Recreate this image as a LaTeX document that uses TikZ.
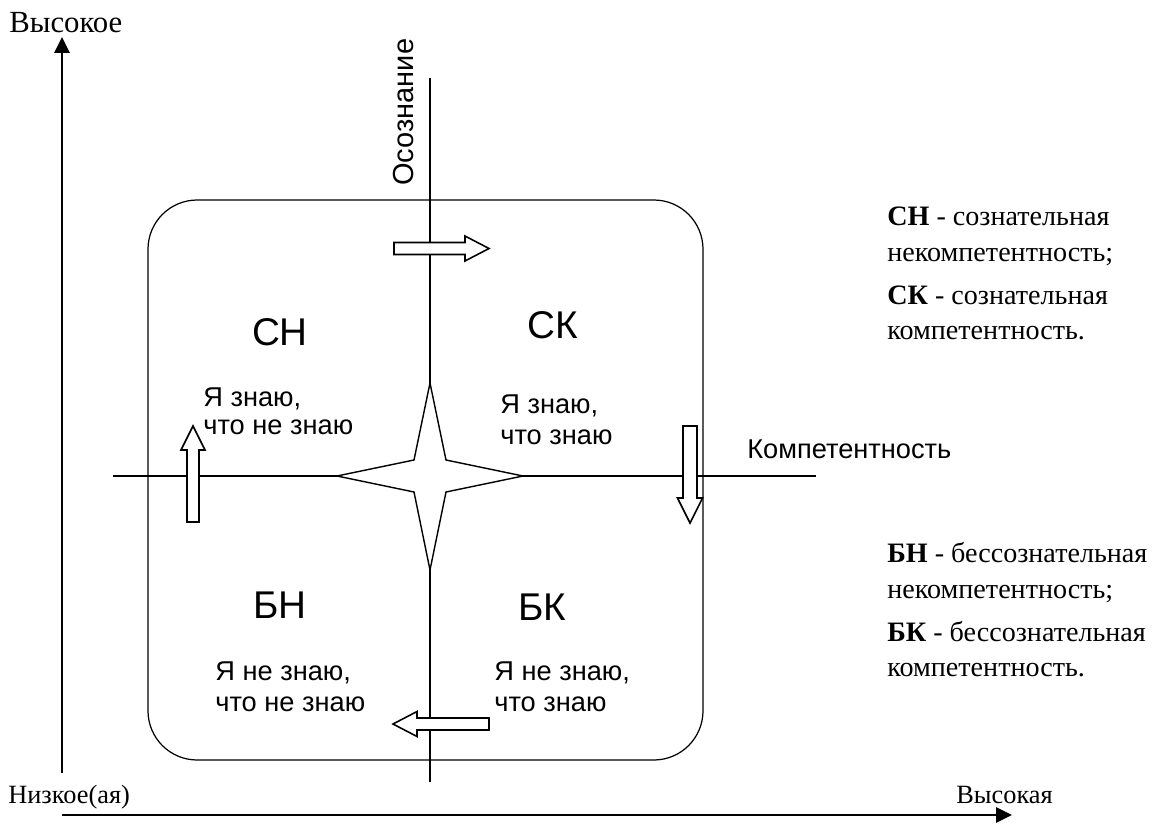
\documentclass[tikz,border=0pt]{standalone}
\usepackage{fontspec}
\setmainfont{Liberation Serif}
\setsansfont{Liberation Sans}
\usetikzlibrary{arrows.meta}

\begin{document}
\begin{tikzpicture}[x=0.02cm,y=-0.02cm,
  axisarrow/.style={line width=1.6pt,-{Triangle[length=9pt,width=8.5pt]}},
  guide/.style={line width=0.6pt},
  frame/.style={line width=0.7pt,rounded corners=28pt},
  starshape/.style={draw,line width=0.8pt,fill=white},
  blockarrow/.style={draw,line width=0.9pt,fill=white},
  lbl/.style={font=\sffamily\fontsize{15.5}{18}\selectfont,anchor=base west,inner sep=0pt},
  quad/.style={font=\sffamily\fontsize{22}{26}\selectfont,anchor=base,inner sep=0pt},
  legend/.style={font=\fontsize{16}{19}\selectfont,anchor=base west,inner sep=0pt},
  corner/.style={font=\fontsize{15}{18}\selectfont,anchor=base west,inner sep=0pt},
]
\useasboundingbox (0,0) rectangle (1160,825);

% outer axes
\coordinate (origin) at (62,815);
\coordinate (ytop) at (62,37);
\coordinate (ybot) at (62,773);
\coordinate (xend) at (1012,815);
\draw[axisarrow] (ybot) -- (ytop);
\draw[axisarrow] (origin) -- (xend);
\node[corner,font=\fontsize{17.5}{20}\selectfont] (high) at (9,32) {Высокое};
\node[corner] (low) at (8,803) {Низкое(ая)};
\node[corner] (highx) at (956,803) {Высокая};

% rounded frame
\draw[frame] (148,200) rectangle (703,760);

% cross of the two scales
\coordinate (vtop) at (430,78);
\coordinate (vbot) at (430,782);
\coordinate (hleft) at (113,476);
\coordinate (hright) at (816,476);
\draw[guide] (vtop) -- (vbot);
\draw[guide] (hleft) -- (hright);
\node[lbl,rotate=90,font=\sffamily\fontsize{16.5}{19}\selectfont] (aware) at (413,186) {Осознание};
\node[lbl] (comp) at (747,458) {Компетентность};

% four-pointed star at the centre
\draw[starshape] (430,383) -- (446,460) -- (523,476) -- (446,492) -- (430,570)
  -- (414,492) -- (337,476) -- (414,460) -- cycle;

% block arrows showing the cycle
\draw[blockarrow] (394,242.5) -- (465,242.5) -- (465,236) -- (489,248.5) -- (465,261)
  -- (465,254.5) -- (394,254.5) -- cycle;
\draw[blockarrow] (683,426) -- (697,426) -- (697,498) -- (702.5,498) -- (690,523)
  -- (677.5,498) -- (683,498) -- cycle;
\draw[blockarrow] (187,522) -- (199,522) -- (199,450) -- (205,450) -- (193,426)
  -- (181,450) -- (187,450) -- cycle;
\draw[blockarrow] (489,718) -- (489,730) -- (417,730) -- (417,736.5) -- (393,724)
  -- (417,711.5) -- (417,718) -- cycle;

% quadrant names
\node[quad] (sn) at (280,345) {СН};
\node[quad] (sk) at (553,338) {СК};
\node[quad] (bn) at (280,618) {БН};
\node[quad] (bk) at (542,620) {БК};

% quadrant phrases
\node[lbl] (sn1) at (203,406) {Я знаю,};
\node[lbl] (sn2) at (203,434) {что не знаю};
\node[lbl] (sk1) at (500,413) {Я знаю,};
\node[lbl] (sk2) at (500,444) {что знаю};
\node[lbl] (bn1) at (215,680) {Я не знаю,};
\node[lbl] (bn2) at (215,711) {что не знаю};
\node[lbl] (bk1) at (494,680) {Я не знаю,};
\node[lbl] (bk2) at (494,711) {что знаю};

% legend
\node[legend] (l1) at (887,225) {\textbf{СН} - сознательная};
\node[legend] (l2) at (887,261) {некомпетентность;};
\node[legend] (l3) at (887,304) {\textbf{СК} - сознательная};
\node[legend] (l4) at (887,339) {компетентность.};
\node[legend] (l5) at (887,562) {\textbf{БН} - бессознательная};
\node[legend] (l6) at (887,598) {некомпетентность;};
\node[legend] (l7) at (887,641) {\textbf{БК} - бессознательная};
\node[legend] (l8) at (887,676) {компетентность.};
\end{tikzpicture}
\end{document}
